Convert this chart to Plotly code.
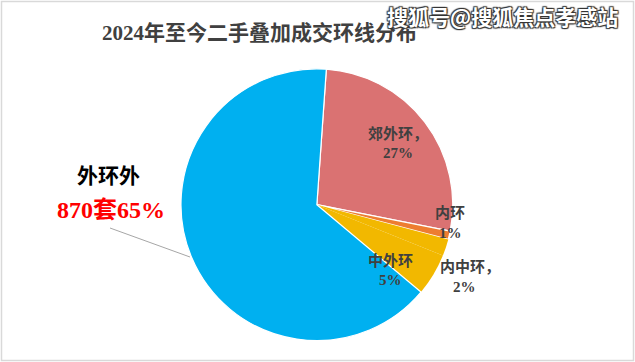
import plotly.graph_objects as go

categories = ["郊外环", "内环", "内中环", "中外环", "外环外"]
percents = [27, 1, 2, 5, 65]
count_outer = 870
colors = ["#DA7272", "#ED7D31", "#F2B800", "#F2B800", "#00B0F0"]
line_widths = [1.2, 1.2, 0, 0, 1.2]

fig = go.Figure()
fig.add_trace(go.Pie(
    labels=categories,
    values=percents,
    sort=False,
    direction="clockwise",
    rotation=4,
    marker=dict(colors=colors, line=dict(color="white", width=line_widths)),
    textinfo="none",
    hoverinfo="label+percent",
    showlegend=False,
    domain=dict(x=[0.285, 0.713], y=[0.058, 0.811]),
))

serif = "Liberation Serif, Noto Sans CJK SC, serif"
lab_font = dict(family=serif, size=15, color="#404040", weight="bold")

def ann(x, y, text, font, **kw):
    fig.add_annotation(x=x / 635, y=1 - y / 362, xref="paper", yref="paper",
                       text=text, showarrow=False, font=font,
                       xanchor="center", yanchor="middle", **kw)

# title
ann(259, 33, "2024年至今二手叠加成交环线分布",
    dict(family=serif, size=21, color="#404040", weight="bold"))
# watermark
ann(502, 16, "搜狐号@搜狐焦点孝感站",
    dict(family="Noto Sans CJK SC", size=21, color="white", weight="bold",
         shadow="1px 1px 1px #333, -1px -1px 1px #333, 1px -1px 1px #333, -1px 1px 1px #333"))

# slice labels
ann(398, 133, categories[0] + "，", lab_font)
ann(398, 153, f"{percents[0]}%", lab_font)
ann(450, 213, categories[1], lab_font)
ann(450, 233, f"{percents[1]}%", lab_font)
ann(470, 267, categories[2] + "，", lab_font)
ann(464, 287, f"{percents[2]}%", lab_font)
ann(390, 260, categories[3], lab_font)
ann(390, 280, f"{percents[3]}%", lab_font)

# outer label
ann(108, 176, categories[4], dict(family=serif, size=21, color="black", weight="bold"))
ann(111, 210, f"{count_outer}套{percents[4]}%",
    dict(family=serif, size=24, color="#FF0000", weight="bold"))

fig.add_shape(type="line", xref="paper", yref="paper",
              x0=110 / 635, y0=1 - 228 / 362, x1=190 / 635, y1=1 - 257 / 362,
              line=dict(color="#A6A6A6", width=1))
# chart border
fig.add_shape(type="rect", xref="paper", yref="paper",
              x0=1.5 / 635, y0=1.5 / 362, x1=633.5 / 635, y1=360.5 / 362,
              line=dict(color="#D9D9D9", width=1.5))

fig.update_layout(
    width=635, height=362,
    margin=dict(l=0, r=0, t=0, b=0),
    paper_bgcolor="white", plot_bgcolor="white",
)

fig.write_html("out.html", config={"displayModeBar": False},
               post_script="document.body.style.margin='0';document.body.style.overflow='hidden';")
